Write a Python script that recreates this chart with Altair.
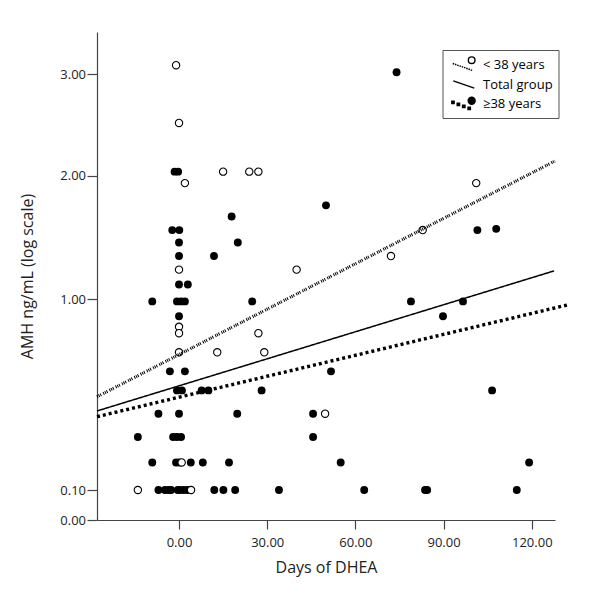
import altair as alt
import pandas as pd

# ---------------- data ----------------
# < 38 years (open circles)
young_day = [-1.0, 0.0, 2.0, 15.0, 23.9, 27.0, 0.0, 0.0, 0.0, 27.0, 0.0, 13.0, 29.0,
             40.0, 72.1, 82.9, 101.1, 49.7, 0.9, -14.0, 4.1]
young_amh = [3.09, 2.52, 1.94, 2.04, 2.04, 2.04, 1.24, 0.87, 0.84, 0.84, 0.75, 0.75, 0.75,
             1.24, 1.35, 1.56, 1.94, 0.46, 0.23, 0.10, 0.10]

# >= 38 years (filled circles)
old_day = [-1.5, -0.3, 17.9, -2.3, 0.1, 0.0, 20.0, 0.0, 11.9, 0.0, 3.0,
           -9.1, -0.7, 0.7, 2.0, 24.9, 78.9, 96.6, 0.0, 89.8,
           -3.1, 2.0, 51.7, -0.7, 1.0, 7.7, 10.0, 28.1, 106.5,
           -7.0, 0.0, 19.8, 45.6, -14.0, -2.0, -0.7, 0.7, 45.6,
           -9.1, -1.0, 0.1, 4.0, 8.1, 17.0, 55.0, 119.1,
           -7.0, -4.8, -3.6, -2.7, -0.4, 0.3, 1.5, 2.8, 12.0, 15.1, 19.1, 34.0, 63.0, 83.7, 84.4, 114.9,
           74.0, 50.0, 101.5, 107.9]
old_amh = [2.04, 2.04, 1.67, 1.56, 1.56, 1.46, 1.46, 1.35, 1.35, 1.12, 1.12,
           0.99, 0.99, 0.99, 0.99, 0.99, 0.99, 0.99, 0.92, 0.92,
           0.66, 0.66, 0.66, 0.57, 0.57, 0.57, 0.57, 0.57, 0.57,
           0.46, 0.46, 0.46, 0.46, 0.35, 0.35, 0.35, 0.35, 0.35,
           0.23, 0.23, 0.23, 0.23, 0.23, 0.23, 0.23, 0.23,
           0.10, 0.10, 0.10, 0.10, 0.10, 0.10, 0.10, 0.10, 0.10, 0.10, 0.10, 0.10, 0.10, 0.10, 0.10, 0.10,
           3.02, 1.76, 1.56, 1.57]

# regression lines (end points)
young_fit_day = [-27.9, 127.9]
young_fit_amh = [0.540, 2.145]
total_fit_day = [-27.9, 127.6]
total_fit_amh = [0.473, 1.230]
old_fit_day = [-27.9, 132.0]
old_fit_amh = [0.446, 0.973]

series_names = ["< 38 years", "Total group", "≥38 years"]
y_ticks = [0, 0.1, 1, 2, 3]
x_ticks = [0, 30, 60, 90, 120]

# ---------------- layout ----------------
W, H = 458, 488
FONT = "Open Sans"

young = pd.DataFrame({"day": young_day, "amh": young_amh})
old = pd.DataFrame({"day": old_day, "amh": old_amh})
legend_df = pd.DataFrame({"group": series_names})

# the printed axis is a compressed ("log") scale: piecewise between the tick labels
y_scale = alt.Scale(domain=[0, 0.1, 1, 2, 3, 3.417],
                    range=[H, H - 30, H - 220.7, H - 344.3, H - 445.7, 0],
                    nice=False, zero=False)
x_scale = alt.Scale(domain=[-27.9, 127.9], nice=False, zero=False)

x_enc = alt.X("day:Q", scale=x_scale,
              axis=alt.Axis(values=x_ticks, format=".2f", title="Days of DHEA",
                            tickSize=9, labelPadding=7, titlePadding=10))
y_enc = alt.Y("amh:Q", scale=y_scale,
              axis=alt.Axis(values=y_ticks, format=".2f", title="AMH ng/mL (log scale)",
                            tickSize=10, labelPadding=1.5, titlePadding=24))

pts_old = alt.Chart(old).mark_point(filled=True, size=62, opacity=1, color="black").encode(
    x=x_enc, y=y_enc)
pts_young = alt.Chart(young).mark_point(size=54, opacity=1, fill="white", stroke="black",
                                        strokeWidth=1.1).encode(
    x=alt.X("day:Q", scale=x_scale), y=alt.Y("amh:Q", scale=y_scale))


def fit_line(days, amhs, dash, width):
    df = pd.DataFrame({"day": days, "amh": amhs})
    return alt.Chart(df).mark_line(color="black", clip=False, strokeDash=dash,
                                   strokeWidth=width).encode(
        x=alt.X("day:Q", scale=x_scale), y=alt.Y("amh:Q", scale=y_scale))


line_young = fit_line(young_fit_day, young_fit_amh, [1, 0.9, 1, 0.9, 1, 2.2], 3)
line_total = fit_line(total_fit_day, total_fit_amh, [1, 0], 1.5)
line_old = fit_line(old_fit_day, old_fit_amh, [3, 3], 3.4)


def circ(cx, cy, r):
    return (f"M{cx + r:.3f},{cy:.3f}A{r},{r} 0 1,1 {cx - r:.3f},{cy:.3f}"
            f"A{r},{r} 0 1,1 {cx + r:.3f},{cy:.3f}Z")


def dashes(x0, y0, x1, y1, n, frac):
    out = []
    for i in range(n):
        t0 = i / n
        t1 = t0 + frac
        out.append(f"M{x0 + (x1 - x0) * t0:.3f},{y0 + (y1 - y0) * t0:.3f}"
                   f"L{x0 + (x1 - x0) * t1:.3f},{y0 + (y1 - y0) * t1:.3f}")
    return "".join(out)


def squares(x0, y0, x1, y1, n, s):
    out = []
    for i in range(n):
        t = i / (n - 1)
        cx = x0 + (x1 - x0) * t
        cy = y0 + (y1 - y0) * t
        out.append(f"M{cx - s:.3f},{cy - s:.3f}h{2 * s}v{2 * s}h{-2 * s}Z")
    return "".join(out)


S = 0.235  # horizontal shift of the symbol drawings (legend units)
shape_young = dashes(-0.74 + S, -0.12, 1.65 + S, 0.72, 9, 0.07) + circ(1.49 + S, -0.51, 0.39)
shape_total = f"M{-0.67 + S},-0.47L{1.8 + S},0.4"
shape_old = squares(-0.71 + S, -0.2, 1.2 + S, 0.5, 4, 0.14) + circ(1.49 + S, -0.4, 0.41)

legend_layer = alt.Chart(legend_df).mark_point(opacity=0, size=289).encode(
    shape=alt.Shape("group:N",
                    scale=alt.Scale(domain=series_names,
                                    range=[shape_young, shape_total, shape_old]),
                    legend=alt.Legend(title=None, orient="none", legendX=345.5, legendY=18,
                                      padding=5, strokeColor="#555", fillColor="white",
                                      rowPadding=1.3, labelOffset=16.5, labelFont=FONT,
                                      labelFontSize=13, labelColor="black",
                                      symbolStrokeWidth=1.4,
                                      symbolOpacity=1, symbolSize=289)),
    fill=alt.Fill("group:N",
                  scale=alt.Scale(domain=series_names, range=["white", "black", "black"])),
    stroke=alt.Stroke("group:N",
                      scale=alt.Scale(domain=series_names, range=["black", "black", "black"])),
)

chart = alt.layer(pts_old, pts_young, line_young, line_total, line_old, legend_layer).properties(
    width=W, height=H,
    autosize=alt.AutoSizeParams(type="none"),
    padding={"left": 89, "top": 24, "right": 37, "bottom": 81},
).configure_view(stroke=None).configure_axis(
    grid=False, domainColor="#444", tickColor="#444", domainWidth=1.2, tickWidth=1.2,
    labelFont=FONT, labelFontSize=13, labelColor="#222",
    titleFont=FONT, titleFontSize=16, titleFontWeight="normal", titleColor="#222",
).configure_legend(labelFont=FONT)

chart.save("out.html", embed_options={"renderer": "svg", "actions": False})
